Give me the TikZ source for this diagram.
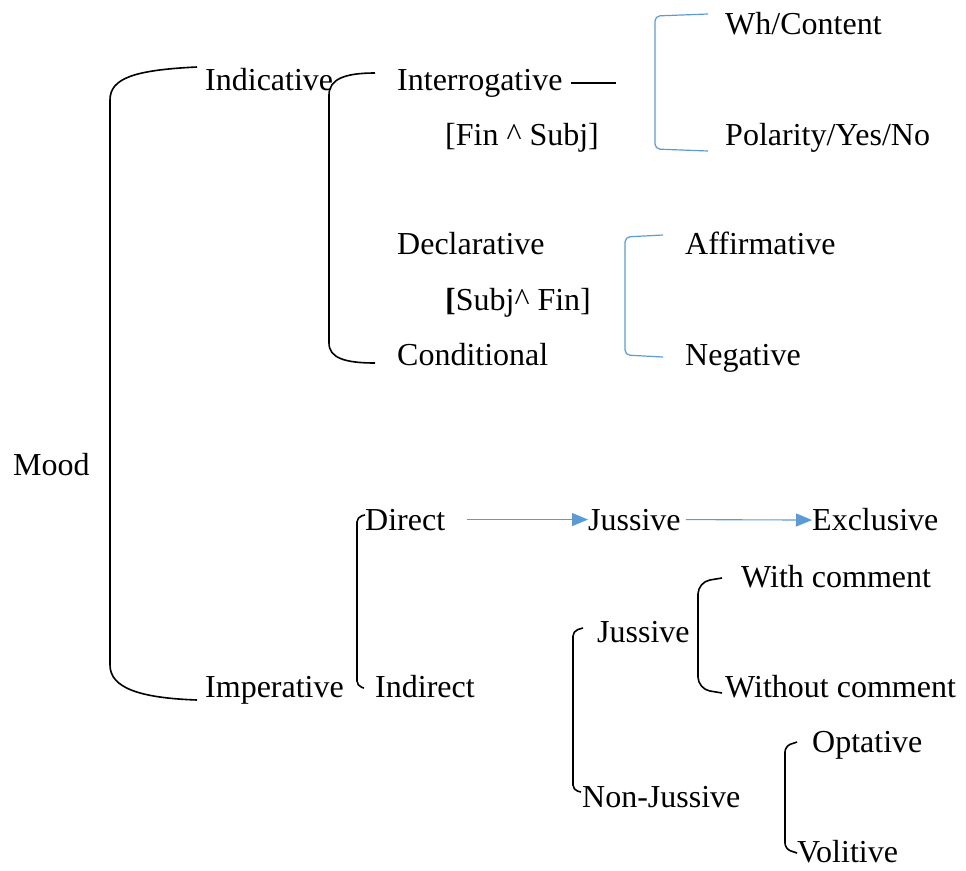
\documentclass[tikz,border=0pt]{standalone}
\usepackage{fontspec}
\setmainfont{Liberation Serif}
\usetikzlibrary{arrows.meta}
\definecolor{lineblue}{HTML}{5B9BD5}

\begin{document}
\begin{tikzpicture}[x=1pt, y=-1pt,
  lbl/.style = {anchor=base west, inner sep=0pt, font=\fontsize{32}{32}\selectfont},
  brk/.style = {draw, line width=1.6pt},
  bluebrk/.style = {draw=lineblue, line width=1.2pt, rounded corners=5pt},
  arr/.style = {draw=lineblue, line width=1.1pt, -{Triangle[length=16pt, width=13pt]}}]
\useasboundingbox (0,0) rectangle (966,870);
\node[lbl] (mood) at (13,475) {Mood};
\node[lbl] (ind) at (205,90) {Indicative};
\node[lbl] (interr) at (397,90) {Interrogative};
\node[lbl] (finsubj) at (445,145) {[Fin \textasciicircum\ Subj]};
\node[lbl] (wh) at (725,34) {Wh/Content};
\node[lbl] (pol) at (725,145) {Polarity/Yes/No};
\node[lbl] (decl) at (397,254) {Declarative};
\node[lbl] (subjfin) at (445,310) {\textbf{[}Subj\textasciicircum\ Fin]};
\node[lbl] (cond) at (397,365) {Conditional};
\node[lbl] (aff) at (685,254) {Affirmative};
\node[lbl] (neg) at (685,365) {Negative};
\node[lbl] (imp) at (205,697) {Imperative};
\node[lbl] (dir) at (365,530) {Direct};
\node[lbl] (indir) at (375,697) {Indirect};
\node[lbl] (juss) at (588,530) {Jussive};
\node[lbl] (excl) at (812,530) {Exclusive};
\node[lbl] (juss2) at (597,642) {Jussive};
\node[lbl] (withc) at (741,587) {With comment};
\node[lbl] (withoutc) at (725,697) {Without comment};
\node[lbl] (nonjuss) at (582,807) {Non-Jussive};
\node[lbl] (opt) at (812,752) {Optative};
\node[lbl] (vol) at (797,862) {Volitive};
\coordinate (dashend) at ([xshift=53pt]interr.east);
\draw[line width=1.3pt, shorten <=8pt] (interr.east) -- (dashend);
\draw[brk] (197,67) .. controls (135,70) and (110,78) .. (110,100) -- (110,665) .. controls (110,688) and (140,698) .. (197,700);
\draw[brk] (375,73) .. controls (345,73) and (329,79) .. (329,95) -- (329,343) .. controls (329,358) and (345,363) .. (375,363);
\draw[bluebrk] (708,14) -- (655,16) -- (655,149) -- (708,151);
\draw[bluebrk] (663,235) -- (625,237) -- (625,355) -- (663,357);
\draw[brk, rounded corners=5pt] (365,515) -- (357,517) -- (357,686) -- (364,688);
\draw[brk, rounded corners=12pt] (722,578) -- (698,582) -- (698,689) -- (722,693);
\draw[brk, rounded corners=5pt] (583,628) -- (573,631) -- (573,790) -- (581,792);
\draw[brk, rounded corners=6pt] (797,742) -- (785,746) -- (785,849) -- (797,853);
\draw[arr, shorten <=22pt] (dir.east) -- (juss.west);
\draw[arr, shorten <=5pt] (juss.east) -- ([yshift=-1pt]excl.west);
\end{tikzpicture}
\end{document}
